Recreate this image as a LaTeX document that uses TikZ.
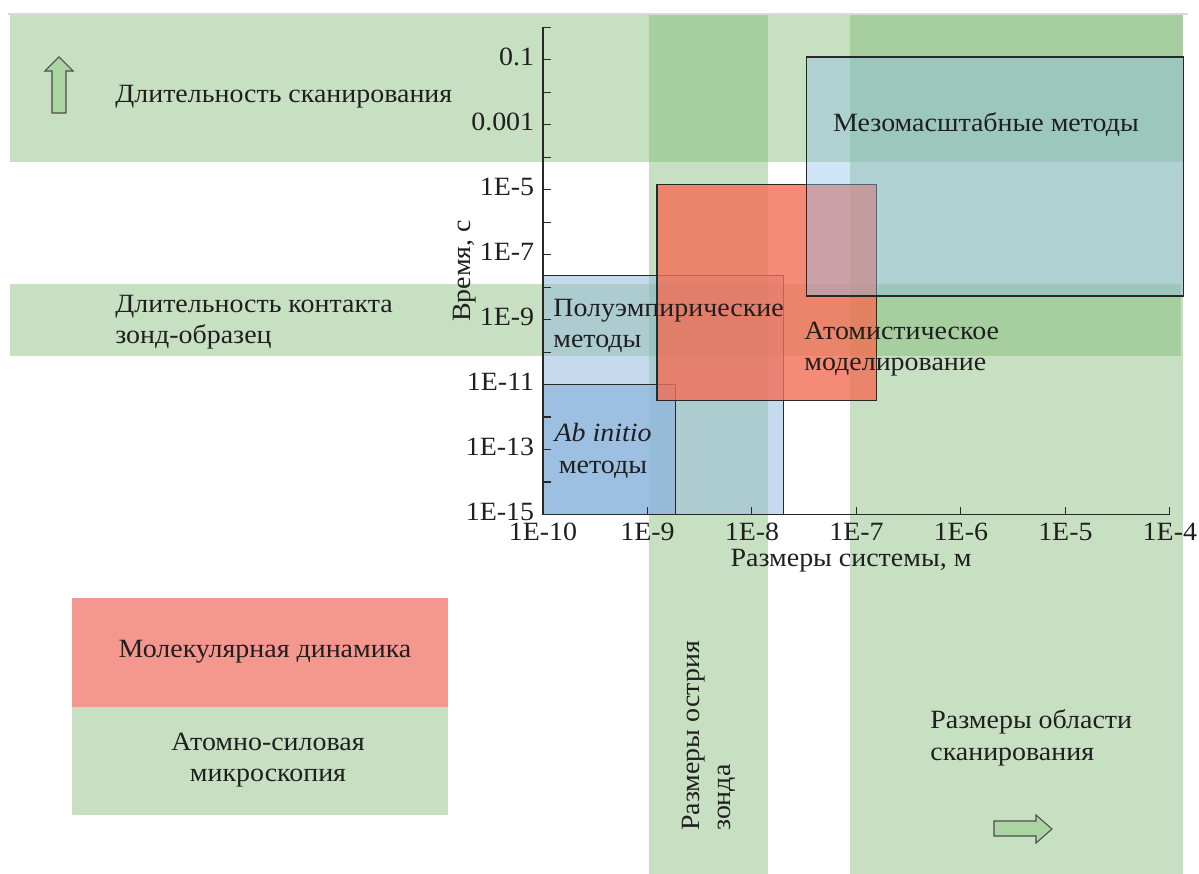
\documentclass[tikz,border=0pt]{standalone}
\usepackage{fontspec}
\setmainfont{Liberation Serif}[FakeStretch=1.06]
\usepackage{tikz}
\usepackage{xcolor}
\usetikzlibrary{calc}

\definecolor{bandgreen}{RGB}{118,178,103}
\definecolor{legred}{RGB}{244,151,142}
\definecolor{leggreen}{RGB}{200,224,194}
\definecolor{semiblue}{RGB}{150,188,221}
\definecolor{abblue}{RGB}{140,180,222}
\definecolor{mdred}{RGB}{243,110,85}
\definecolor{mesoteal}{RGB}{140,190,232}
\definecolor{arrowgreen}{RGB}{170,212,160}
\definecolor{framegray}{RGB}{40,40,40}

\begin{document}
\begin{tikzpicture}[x=0.02cm,y=-0.02cm,
    band/.style={fill=bandgreen,fill opacity=0.4},
    method/.style={draw=framegray,line width=0.8pt},
    lbl/.style={font=\fontsize{15}{18}\selectfont,text=black!88,inner sep=0pt},
    fatarrow/.style={fill=arrowgreen,draw=black!70,line width=0.6pt}]
    \useasboundingbox (0,0) rectangle (1199,874);
    \draw[black!15,line width=1.2pt] (8,14) -- (1188,14);
    \fill[band] (10,15) rectangle (1183,162);
    \fill[band] (10,284) rectangle (1181,356);
    \fill[band] (649,15) rectangle (768,874);
    \fill[band] (850,15) rectangle (1183,874);

    \fill[legred] (72,598) rectangle (448,707);
    \fill[leggreen] (72,707) rectangle (448,815);
    \node[lbl] (md) at (265,652) {Молекулярная динамика};
    \node[lbl,align=center] (afm) at (268,760) {Атомно-силовая\\микроскопия};

    \filldraw[fatarrow] (52,113) -- (66,113) -- (66,71) -- (73,71) -- (59,57) -- (45,71) -- (52,71) -- cycle;
    \filldraw[fatarrow] (994,821) -- (1036,821) -- (1036,815) -- (1052,829) -- (1036,843) -- (1036,836) -- (994,836) -- cycle;

    \node[lbl,anchor=west] (scan) at (115,97) {Длительность сканирования};
    \node[lbl,anchor=west,align=left] (contact) at (115,322) {Длительность контакта\\зонд-образец};
    \node[lbl,rotate=90,align=left] (tip) at (709,736) {Размеры острия\\зонда};
    \node[lbl,anchor=west,align=left] (area) at (930,738) {Размеры области\\сканирования};

    \begin{scope}[shift={(543,514.5)},x=2.09cm,y=0.65cm]
        \filldraw[method,fill=semiblue,fill opacity=0.55] (0,0) rectangle (2.3,7.35);
        \filldraw[method,fill=abblue,fill opacity=0.7] (0,0) rectangle (1.27,4);
        \filldraw[method,fill=mdred,fill opacity=0.8] (1.09,3.5) rectangle (3.19,10.15);
        \filldraw[method,fill=mesoteal,fill opacity=0.42] (2.52,6.72) rectangle (6.13,14.08);

        \draw[framegray,line width=0.8pt] (0,15) -- (0,0) -- (6,0);
        \foreach \y in {0,...,15}{
            \draw[framegray,line width=0.6pt] (0,\y) -- ++(0.16cm,0);
        }
        \foreach \y/\lab in {14/0.1,12/0.001,10/1E-5,8/1E-7,6/1E-9,4/1E-11,2/1E-13,0/1E-15}{
            \node[lbl,anchor=east,xshift=-0.17cm,yshift=0.06cm] (ty\y) at (0,\y) {\lab};
        }
        \foreach \x/\lab in {0/1E-10,1/1E-9,2/1E-8,3/1E-7,4/1E-6,5/1E-5,6/1E-4}{
            \draw[framegray,line width=0.6pt] (\x,0) -- ++(0,0.16cm);
            \node[lbl,anchor=north,yshift=-0.16cm] (tx\x) at (\x,0) {\lab};
        }
    \end{scope}

    \node[lbl,rotate=90] (ylab) at (465,271) {Время, с};
    \node[lbl] (xlab) at (851,561) {Размеры системы, м};

    \node[lbl,anchor=west,align=left] (semi) at (553,326) {Полуэмпирические\\методы};
    \node[lbl,align=center] (abin) at (603,451) {\textit{Ab initio}\\методы};
    \node[lbl,anchor=west,align=left] (atom) at (804,349) {Атомистическое\\моделирование};
    \node[lbl] (meso) at (986,125) {Мезомасштабные методы};
\end{tikzpicture}
\end{document}
